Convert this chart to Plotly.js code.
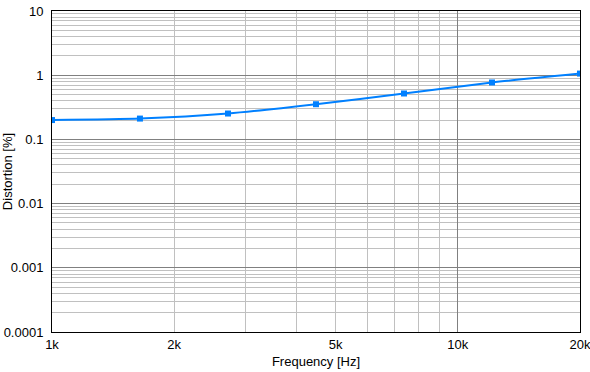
<!DOCTYPE html>
<html>
<head>
<meta charset="utf-8">
<script src="https://cdn.plot.ly/plotly-3.0.1.min.js"></script>
<style>html,body{margin:0;padding:0;background:#fff;}#chart{width:590px;height:372px;}</style>
</head>
<body>
<div id="chart"></div>
<script>
const frequencyHz = [1000, 1647, 2714, 4472, 7368, 12140, 20000];
const distortionPct = [0.200, 0.211, 0.253, 0.353, 0.519, 0.77, 1.06];

const xTickVals = [1000, 2000, 5000, 10000, 20000];
const xTickText = ["1k", "2k", "5k", "10k", "20k"];
const xMinorVals = [3000, 4000, 6000, 7000, 8000, 9000];
const xDecadeVals = [10000];

const yTickVals = [0.0001, 0.001, 0.01, 0.1, 1, 10];
const yTickText = ["0.0001", "0.001", "0.01", "0.1", "1", "10"];
const yMinorVals = [];
[0.0001, 0.001, 0.01, 0.1, 1].forEach(d => { for (let k = 2; k <= 9; k++) yMinorVals.push(+(d * k).toPrecision(3)); });

const font = {family: "Liberation Sans, Arial, sans-serif", size: 13, color: "#000"};
const light = "#c0c0c0", dark = "#808080";

const traces = [
  {
    x: frequencyHz, y: distortionPct, type: "scatter", mode: "lines+markers",
    line: {color: "#0080ff", width: 2, shape: "spline", smoothing: 0.6},
    marker: {symbol: "square", size: 6, color: "#0080ff"},
    hoverinfo: "skip", showlegend: false
  },
  {x: [], y: [], xaxis: "x2", yaxis: "y", type: "scatter", mode: "markers", showlegend: false, hoverinfo: "skip"}
];

const layout = {
  width: 590, height: 372,
  margin: {l: 52, r: 10, t: 11, b: 40},
  paper_bgcolor: "#fff", plot_bgcolor: "#fff",
  font: font,
  showlegend: false,
  xaxis: {
    type: "log", range: [3, Math.log10(20000)],
    tickmode: "array", tickvals: xTickVals, ticktext: xTickText,
    showgrid: true, gridcolor: light, gridwidth: 1,
    minor: {tickmode: "array", tickvals: xMinorVals, showgrid: true, gridcolor: light, gridwidth: 1, ticks: ""},
    ticks: "", ticklen: 0, ticklabeloverflow: "allow", ticklabelstandoff: 0,
    showline: true, linecolor: "#000", linewidth: 1, mirror: true,
    zeroline: false, tickfont: font, automargin: false,
    title: {text: "Frequency [Hz]", font: font, standoff: 6}
  },
  xaxis2: {
    type: "log", range: [3, Math.log10(20000)], overlaying: "x",
    tickmode: "array", tickvals: xDecadeVals, showticklabels: false,
    showgrid: true, gridcolor: dark, gridwidth: 1, ticks: "", showline: false, zeroline: false
  },
  yaxis: {
    type: "log", range: [-4, 1],
    tickmode: "array", tickvals: yTickVals, ticktext: yTickText,
    showgrid: true, gridcolor: dark, gridwidth: 1,
    minor: {tickmode: "array", tickvals: yMinorVals, showgrid: true, gridcolor: light, gridwidth: 1, ticks: ""},
    ticks: "", ticklen: 0, ticklabelstandoff: 5,
    showline: true, linecolor: "#000", linewidth: 1, mirror: true,
    zeroline: false, tickfont: font, automargin: false,
    title: {text: "Distortion [%]", font: font, standoff: 2}
  }
};

Plotly.newPlot("chart", traces, layout, {staticPlot: true, displayModeBar: false});
</script>
</body>
</html>
